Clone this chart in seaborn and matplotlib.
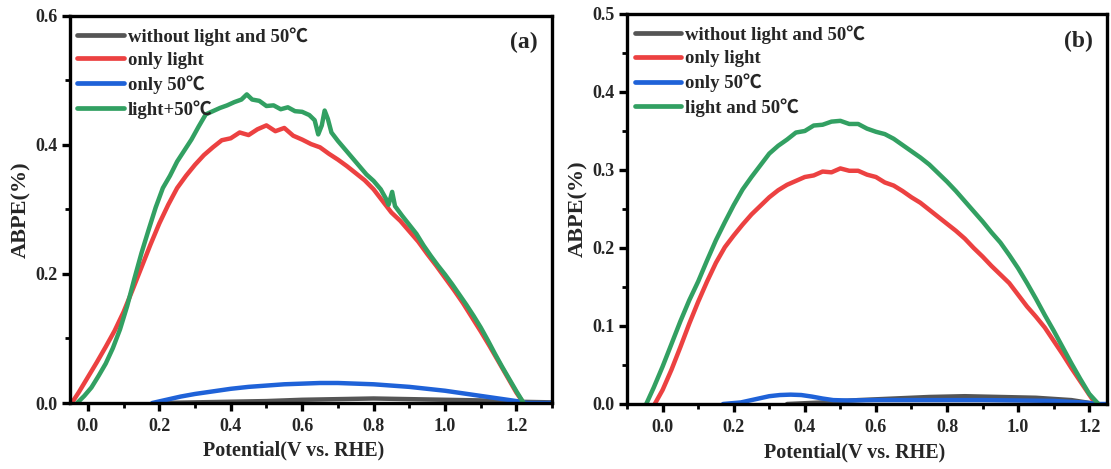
import numpy as np
import pandas as pd
import matplotlib
matplotlib.use("Agg")
import matplotlib.pyplot as plt
from matplotlib.ticker import MultipleLocator
import seaborn as sns

# ---- panel (a): ABPE curves ----
a_dark_x = [0.20, 0.30, 0.40, 0.50, 0.60, 0.70, 0.80, 0.90, 1.00, 1.10, 1.20, 1.30]
a_dark_y = [0.000, 0.001, 0.002, 0.003, 0.005, 0.006, 0.007, 0.006, 0.005, 0.004, 0.002, 0.001]

a_light_x = [-0.045, -0.025, 0.000, 0.025, 0.050, 0.075, 0.100, 0.125, 0.150, 0.175,
             0.200, 0.225, 0.250, 0.275, 0.300, 0.325, 0.350, 0.375, 0.400, 0.425,
             0.450, 0.475, 0.500, 0.525, 0.550, 0.575, 0.600, 0.625, 0.650, 0.675,
             0.700, 0.725, 0.750, 0.775, 0.800, 0.825, 0.850, 0.875, 0.900, 0.925,
             0.950, 0.975, 1.000, 1.025, 1.050, 1.075, 1.100, 1.125, 1.150, 1.175,
             1.200, 1.220]
a_light_y = [0.000, 0.017, 0.040, 0.063, 0.087, 0.112, 0.141, 0.175, 0.210, 0.245,
             0.278, 0.307, 0.333, 0.352, 0.369, 0.384, 0.396, 0.407, 0.410, 0.419,
             0.415, 0.424, 0.430, 0.421, 0.426, 0.414, 0.408, 0.401, 0.396, 0.386,
             0.377, 0.367, 0.356, 0.345, 0.331, 0.313, 0.295, 0.282, 0.266, 0.250,
             0.231, 0.213, 0.194, 0.175, 0.155, 0.133, 0.111, 0.088, 0.064, 0.040,
             0.016, 0.000]

a_heat_x = [0.18, 0.22, 0.26, 0.30, 0.35, 0.40, 0.45, 0.50, 0.55, 0.60, 0.65, 0.70,
            0.75, 0.80, 0.85, 0.90, 0.95, 1.00, 1.05, 1.10, 1.15, 1.20, 1.23, 1.26, 1.30]
a_heat_y = [0.000, 0.005, 0.010, 0.014, 0.018, 0.022, 0.025, 0.027, 0.029, 0.030, 0.031, 0.031,
            0.030, 0.029, 0.027, 0.025, 0.022, 0.019, 0.015, 0.011, 0.007, 0.003, 0.000, 0.000, 0.000]

a_both_x = [-0.030, -0.010, 0.010, 0.030, 0.050, 0.070, 0.090, 0.110, 0.130, 0.150,
            0.170, 0.190, 0.210, 0.230, 0.250, 0.270, 0.290, 0.310, 0.330, 0.350,
            0.370, 0.390, 0.410, 0.430, 0.445, 0.460, 0.480, 0.500, 0.520, 0.540,
            0.560, 0.580, 0.600, 0.620, 0.635, 0.645, 0.655, 0.663, 0.672, 0.682,
            0.700, 0.720, 0.740, 0.760, 0.780, 0.800, 0.820, 0.835, 0.842, 0.852,
            0.860, 0.880, 0.900, 0.920, 0.940, 0.960, 0.980, 1.000, 1.020, 1.040,
            1.060, 1.080, 1.100, 1.120, 1.140, 1.160, 1.180, 1.200, 1.220]
a_both_y = [0.000, 0.011, 0.024, 0.042, 0.061, 0.085, 0.114, 0.150, 0.192, 0.232,
            0.268, 0.303, 0.333, 0.352, 0.374, 0.391, 0.408, 0.428, 0.447, 0.452,
            0.457, 0.461, 0.466, 0.470, 0.478, 0.470, 0.468, 0.460, 0.461, 0.455,
            0.458, 0.452, 0.451, 0.446, 0.438, 0.416, 0.430, 0.453, 0.440, 0.419,
            0.406, 0.393, 0.380, 0.367, 0.354, 0.344, 0.331, 0.316, 0.307, 0.327,
            0.305, 0.290, 0.276, 0.262, 0.244, 0.228, 0.213, 0.199, 0.184, 0.168,
            0.152, 0.135, 0.117, 0.097, 0.076, 0.056, 0.037, 0.018, 0.000]

# ---- panel (b): ABPE curves ----
b_dark_x = [0.35, 0.45, 0.55, 0.65, 0.75, 0.85, 0.95, 1.05, 1.15, 1.22]
b_dark_y = [0.000, 0.002, 0.005, 0.007, 0.009, 0.010, 0.009, 0.008, 0.005, 0.000]

b_light_x = [-0.022, 0.000, 0.025, 0.050, 0.075, 0.100, 0.125, 0.150, 0.175, 0.200,
             0.225, 0.250, 0.275, 0.300, 0.325, 0.350, 0.375, 0.400, 0.425, 0.450,
             0.475, 0.500, 0.525, 0.550, 0.575, 0.600, 0.625, 0.650, 0.675, 0.700,
             0.725, 0.750, 0.775, 0.800, 0.825, 0.850, 0.875, 0.900, 0.925, 0.950,
             0.975, 1.000, 1.025, 1.050, 1.075, 1.100, 1.125, 1.150, 1.175, 1.200, 1.218]
b_light_y = [0.000, 0.018, 0.044, 0.073, 0.103, 0.131, 0.157, 0.181, 0.201, 0.216,
             0.230, 0.243, 0.254, 0.265, 0.274, 0.281, 0.286, 0.291, 0.293, 0.298,
             0.297, 0.302, 0.299, 0.299, 0.294, 0.291, 0.284, 0.280, 0.273, 0.265,
             0.258, 0.249, 0.240, 0.231, 0.222, 0.212, 0.200, 0.189, 0.177, 0.166,
             0.155, 0.140, 0.125, 0.112, 0.098, 0.081, 0.064, 0.046, 0.029, 0.012, 0.000]

b_heat_x = [0.17, 0.22, 0.26, 0.30, 0.33, 0.36, 0.39, 0.42, 0.45, 0.48, 0.52, 0.60,
            0.70, 0.80, 0.90, 1.00, 1.10, 1.18, 1.23, 1.25]
b_heat_y = [0.000, 0.002, 0.006, 0.010, 0.0115, 0.012, 0.0115, 0.0095, 0.007, 0.005, 0.0045, 0.005,
            0.005, 0.005, 0.005, 0.0045, 0.004, 0.002, 0.000, 0.000]

b_both_x = [-0.046, -0.025, 0.000, 0.025, 0.050, 0.075, 0.100, 0.125, 0.150, 0.175,
            0.200, 0.225, 0.250, 0.275, 0.300, 0.325, 0.350, 0.375, 0.400, 0.425,
            0.450, 0.475, 0.500, 0.525, 0.550, 0.575, 0.600, 0.625, 0.650, 0.675,
            0.700, 0.725, 0.750, 0.775, 0.800, 0.825, 0.850, 0.875, 0.900, 0.925,
            0.950, 0.975, 1.000, 1.025, 1.050, 1.075, 1.100, 1.125, 1.150, 1.175,
            1.200, 1.226]
b_both_y = [0.000, 0.021, 0.048, 0.077, 0.106, 0.133, 0.157, 0.184, 0.210, 0.233,
            0.255, 0.275, 0.291, 0.306, 0.321, 0.331, 0.339, 0.348, 0.350, 0.357,
            0.358, 0.362, 0.363, 0.359, 0.359, 0.353, 0.349, 0.346, 0.340, 0.332,
            0.324, 0.316, 0.307, 0.296, 0.285, 0.273, 0.260, 0.247, 0.234, 0.220,
            0.207, 0.191, 0.174, 0.155, 0.135, 0.114, 0.094, 0.073, 0.052, 0.032,
            0.013, 0.000]

labels_a = ["without light and 50\u2103", "only light", "only 50\u2103", "light+50\u2103"]
labels_b = ["without light and 50\u2103", "only light", "only 50\u2103", "light and 50\u2103"]
colors = ["#555555", "#ec4141", "#1f62d8", "#32a062"]

sns.set_theme(style="ticks")
serif = ["Liberation Serif", "Noto Sans CJK SC", "DejaVu Serif"]
plt.rcParams["font.family"] = serif
plt.rcParams["font.weight"] = "bold"
plt.rcParams["axes.labelweight"] = "bold"

fig = plt.figure(figsize=(11.11, 4.69), dpi=100)
ax_a = fig.add_axes([0.063, 0.1407, 0.434, 0.826])
ax_b = fig.add_axes([0.5644, 0.1386, 0.432, 0.8316])


def draw_panel(ax, series, labels, xlim, ylim, ymajor, yminor, tag, xlabel_x):
    for (xs, ys), lab, col in zip(series, labels, colors):
        df = pd.DataFrame({"x": xs, "y": ys})
        sns.lineplot(data=df, x="x", y="y", ax=ax, color=col, label=lab,
                     linewidth=3.2, sort=False, estimator=None)
    ax.set_xlim(*xlim)
    ax.set_ylim(*ylim)
    ax.xaxis.set_major_locator(MultipleLocator(0.2))
    ax.xaxis.set_minor_locator(MultipleLocator(0.1))
    ax.yaxis.set_major_locator(MultipleLocator(ymajor))
    ax.yaxis.set_minor_locator(MultipleLocator(yminor))
    ax.xaxis.set_major_formatter(plt.FormatStrFormatter("%.1f"))
    ax.yaxis.set_major_formatter(plt.FormatStrFormatter("%.1f"))
    ax.tick_params(which="major", direction="out", length=6, width=2.4,
                   labelsize=13, color="black")
    ax.tick_params(axis="x", which="major", pad=5)
    ax.tick_params(axis="y", which="major", pad=3)
    ax.tick_params(which="minor", direction="out", length=3.5, width=2.0, color="black")
    for lab in ax.get_xticklabels() + ax.get_yticklabels():
        lab.set_fontweight("bold")
    for sp in ax.spines.values():
        sp.set_visible(True)
        sp.set_linewidth(2.4)
        sp.set_color("black")
    ax.set_xlabel("Potential(V vs. RHE)", fontsize=14.5, fontweight="bold")
    ax.xaxis.set_label_coords(xlabel_x, -0.098)
    ax.set_ylabel("ABPE(%)", fontsize=16, fontweight="bold", labelpad=3)
    leg = ax.legend(loc="upper left", bbox_to_anchor=(0.0, 0.99), frameon=False,
                    handlelength=2.5, handletextpad=0.2, labelspacing=0.33,
                    borderaxespad=0.2, borderpad=0.2,
                    prop={"family": serif, "weight": "bold", "size": 13.5})
    for line in leg.get_lines():
        line.set_linewidth(3.4)
    ax.text(0.97, 0.93, tag, transform=ax.transAxes, ha="right", va="center",
            fontsize=17, fontweight="bold")


draw_panel(ax_a,
           [(a_dark_x, a_dark_y), (a_light_x, a_light_y), (a_heat_x, a_heat_y), (a_both_x, a_both_y)],
           labels_a, (-0.05, 1.30), (0.0, 0.6), 0.2, 0.1, "(a)", 0.463)
draw_panel(ax_b,
           [(b_dark_x, b_dark_y), (b_light_x, b_light_y), (b_heat_x, b_heat_y), (b_both_x, b_both_y)],
           labels_b, (-0.10, 1.25), (0.0, 0.5), 0.1, 0.05, "(b)", 0.475)

fig.savefig("out.png", dpi=100, facecolor="white")
